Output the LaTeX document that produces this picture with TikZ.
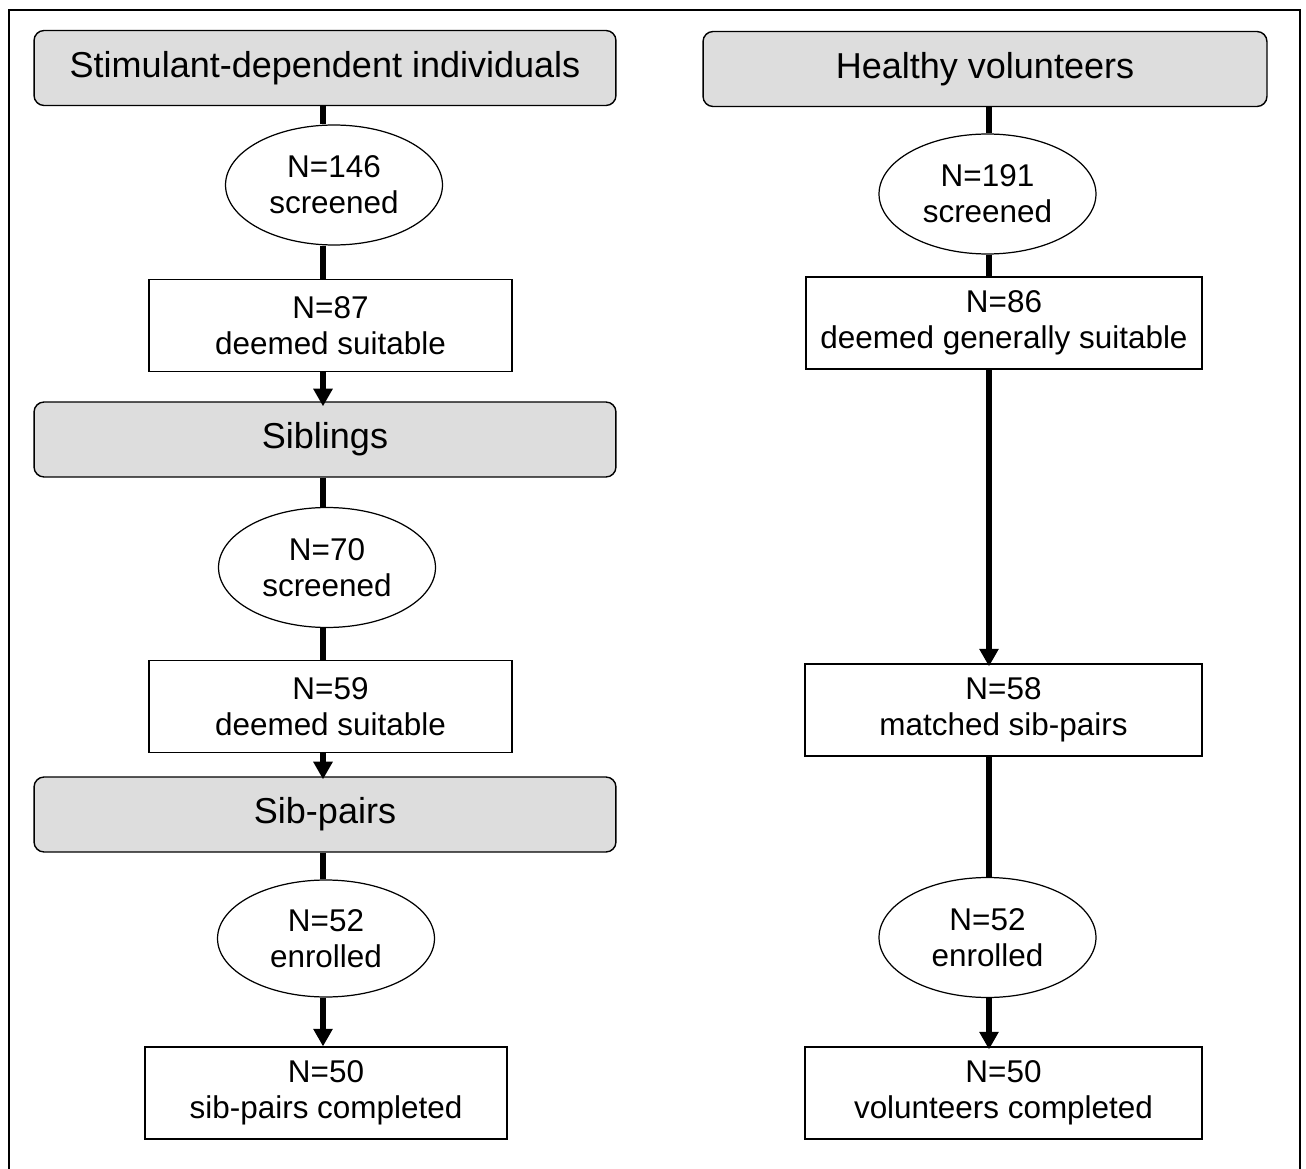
\documentclass[tikz,border=0pt]{standalone}
\usepackage{fontspec}
\setmainfont{Liberation Sans}
\usetikzlibrary{arrows.meta,shapes.geometric}
\definecolor{boxgray}{RGB}{221,221,221}
\tikzset{
  grouphead/.style={draw=black, line width=0.8pt, fill=boxgray, rounded corners=0.2cm,
    inner sep=0pt, minimum height=1.5cm, align=center,
    font=\fontsize{20.5}{24}\selectfont},
  countbox/.style={draw=black, line width=0.7pt, fill=white, inner sep=0pt,
    minimum height=1.84cm, align=center, font=\fontsize{17.9}{20.5}\selectfont},
  countoval/.style={ellipse, draw=black, line width=0.7pt, fill=white, inner sep=0pt,
    minimum width=4.34cm, minimum height=2.4cm, align=center,
    font=\fontsize{17.9}{20.5}\selectfont},
  flowline/.style={line width=3pt},
  flowarrow/.style={line width=3pt, -{Triangle[width=10.5pt,length=10pt]}},
}
\begin{document}
\begin{tikzpicture}[x=0.02cm,y=-0.02cm]
\useasboundingbox (0,0) rectangle (1306,1169);
% outer frame (bottom edge lies outside the picture)
\draw[line width=0.7pt] (9,1175) -- (9,10) -- (1300,10) -- (1300,1175);

\coordinate (lx) at (323,0);
\coordinate (rx) at (989,0);

% left column
\node[grouphead, minimum width=11.64cm] (g1) at (325,68) {Stimulant-dependent individuals};
\node[countoval] (e1) at (334,185) {N=146\\screened};
\node[countbox, minimum width=7.26cm] (b1) at (330.5,325.5) {N=87\\deemed suitable};
\node[grouphead, minimum width=11.64cm] (g2) at (325,439.5) {Siblings};
\node[countoval] (e2) at (327,567.5) {N=70\\screened};
\node[countbox, minimum width=7.26cm] (b2) at (330.5,706.5) {N=59\\deemed suitable};
\node[grouphead, minimum width=11.64cm] (g3) at (325,814.5) {Sib-pairs};
\node[countoval, minimum height=2.34cm] (e3) at (326,938.5) {N=52\\enrolled};
\node[countbox, minimum width=7.24cm] (b3) at (326,1093) {N=50\\sib-pairs completed};

% right column
\node[grouphead, minimum width=11.28cm] (g4) at (985,69) {Healthy volunteers};
\node[countoval] (e4) at (987.5,194) {N=191\\screened};
\node[countbox, minimum width=7.92cm] (b4) at (1004,323) {N=86\\deemed generally suitable};
\node[countbox, minimum width=7.94cm] (b5) at (1003.5,710) {N=58\\matched sib-pairs};
\node[countoval] (e5) at (987.5,937.5) {N=52\\enrolled};
\node[countbox, minimum width=7.94cm] (b6) at (1003.5,1093) {N=50\\volunteers completed};

% left connectors
\draw[flowline] (g1.south -| lx) -- (e1.north -| lx);
\draw[flowline] (e1.south -| lx) -- (b1.north -| lx);
\draw[flowarrow] (b1.south -| lx) -- ([yshift=-0.1cm]g2.north -| lx);
\draw[flowline] (g2.south -| lx) -- (e2.north -| lx);
\draw[flowline] (e2.south -| lx) -- (b2.north -| lx);
\draw[flowarrow] (b2.south -| lx) -- ([yshift=-0.06cm]g3.north -| lx);
\draw[flowline] (g3.south -| lx) -- (e3.north -| lx);
\draw[flowarrow] (e3.south -| lx) -- (b3.north -| lx);

% right connectors
\draw[flowline] (g4.south -| rx) -- (e4.north -| rx);
\draw[flowline] (e4.south -| rx) -- (b4.north -| rx);
\draw[flowarrow] (b4.south -| rx) -- ([yshift=-0.06cm]b5.north -| rx);
\draw[flowline] (b5.south -| rx) -- (e5.north -| rx);
\draw[flowarrow] (e5.south -| rx) -- ([yshift=-0.06cm]b6.north -| rx);
\end{tikzpicture}
\end{document}
